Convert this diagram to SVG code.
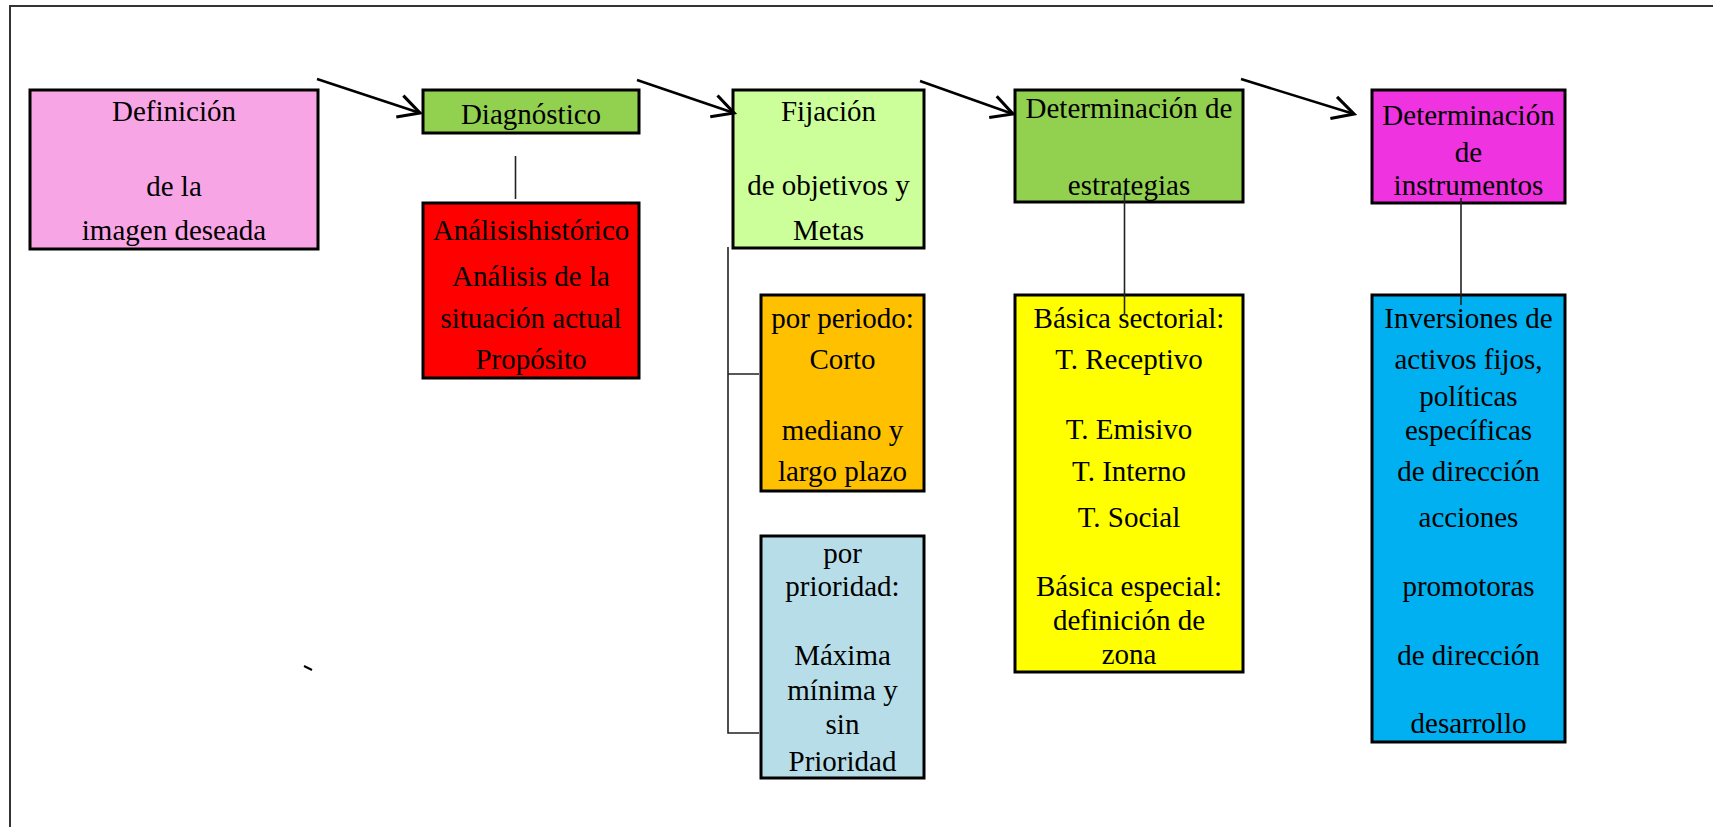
<svg xmlns="http://www.w3.org/2000/svg" width="1713" height="827" viewBox="0 0 1713 827">
<style>
.box{stroke:#000;stroke-width:3}
.t{font-family:"Liberation Serif","Times New Roman",serif;font-size:29px;fill:#000;text-anchor:middle}
.ln{stroke:#222;stroke-width:1.6;fill:none}
.ar{stroke:#000;stroke-width:2.5;fill:none;marker-end:url(#ah)}
</style>
<defs>
<marker id="ah" markerUnits="userSpaceOnUse" markerWidth="30" markerHeight="30" viewBox="-20 -12 22 24" refX="0" refY="0" orient="auto">
<path d="M-17,-9 L0,0 L-17,9" fill="none" stroke="#000" stroke-width="2.5"/>
</marker>
</defs>
<rect width="1713" height="827" fill="#fff"/>
<path d="M10,827 V6 H1713" fill="none" stroke="#333" stroke-width="2"/>
<g id="n-definicion">
<rect class="box" x="30" y="90" width="288" height="159" fill="#F8A5E6"/>
<text class="t" x="174" y="121">Definición</text>
<text class="t" x="174" y="196">de la</text>
<text class="t" x="174" y="240">imagen deseada</text>
</g>
<g id="n-diagnostico">
<rect class="box" x="423" y="90" width="216" height="43" fill="#92D050"/>
<text class="t" x="531" y="124">Diagnóstico</text>
</g>
<g id="n-analisis">
<rect class="box" x="423" y="203" width="216" height="175" fill="#FF0000"/>
<text class="t" x="531" y="240">Análisishistórico</text>
<text class="t" x="531" y="286">Análisis de la</text>
<text class="t" x="531" y="328">situación actual</text>
<text class="t" x="531" y="369">Propósito</text>
</g>
<g id="n-fijacion">
<rect class="box" x="733" y="90" width="191" height="158" fill="#CCFF99"/>
<text class="t" x="828.5" y="121">Fijación</text>
<text class="t" x="828.5" y="195">de objetivos y</text>
<text class="t" x="828.5" y="240">Metas</text>
</g>
<g id="n-periodo">
<rect class="box" x="761" y="295" width="163" height="196" fill="#FFC000"/>
<text class="t" x="842.5" y="328">por periodo:</text>
<text class="t" x="842.5" y="369">Corto</text>
<text class="t" x="842.5" y="440">mediano y</text>
<text class="t" x="842.5" y="481">largo plazo</text>
</g>
<g id="n-prioridad">
<rect class="box" x="761" y="536" width="163" height="242" fill="#B7DEE8"/>
<text class="t" x="842.5" y="563">por</text>
<text class="t" x="842.5" y="596">prioridad:</text>
<text class="t" x="842.5" y="665">Máxima</text>
<text class="t" x="842.5" y="700">mínima y</text>
<text class="t" x="842.5" y="734">sin</text>
<text class="t" x="842.5" y="771">Prioridad</text>
</g>
<g id="n-estrategias">
<rect class="box" x="1015" y="90" width="228" height="112" fill="#92D050"/>
<text class="t" x="1129" y="118">Determinación de</text>
<text class="t" x="1129" y="195">estrategias</text>
</g>
<g id="n-sectorial">
<rect class="box" x="1015" y="295" width="228" height="377" fill="#FFFF00"/>
<text class="t" x="1129" y="328">Básica sectorial:</text>
<text class="t" x="1129" y="369">T. Receptivo</text>
<text class="t" x="1129" y="439">T. Emisivo</text>
<text class="t" x="1129" y="481">T. Interno</text>
<text class="t" x="1129" y="527">T. Social</text>
<text class="t" x="1129" y="596">Básica especial:</text>
<text class="t" x="1129" y="630">definición de</text>
<text class="t" x="1129" y="664">zona</text>
</g>
<g id="n-instrumentos">
<rect class="box" x="1372" y="90" width="193" height="113" fill="#EF33E0"/>
<text class="t" x="1468.5" y="125">Determinación</text>
<text class="t" x="1468.5" y="162">de</text>
<text class="t" x="1468.5" y="195">instrumentos</text>
</g>
<g id="n-inversiones">
<rect class="box" x="1372" y="295" width="193" height="447" fill="#00B0F0"/>
<text class="t" x="1468.5" y="328">Inversiones de</text>
<text class="t" x="1468.5" y="369">activos fijos,</text>
<text class="t" x="1468.5" y="406">políticas</text>
<text class="t" x="1468.5" y="440">específicas</text>
<text class="t" x="1468.5" y="481">de dirección</text>
<text class="t" x="1468.5" y="527">acciones</text>
<text class="t" x="1468.5" y="596">promotoras</text>
<text class="t" x="1468.5" y="665">de dirección</text>
<text class="t" x="1468.5" y="733">desarrollo</text>
</g>
<g id="connectors">
<line class="ar" x1="317" y1="79" x2="420" y2="113"/>
<line class="ar" x1="637" y1="80" x2="734" y2="113"/>
<line class="ar" x1="920" y1="81" x2="1013" y2="114"/>
<line class="ar" x1="1241" y1="79" x2="1354" y2="114"/>
<line class="ln" x1="515.5" y1="156" x2="515.5" y2="199"/>
<path class="ln" d="M759,374 H728 V247 M728,374 V733 H759"/>
<line class="ln" x1="1124.5" y1="193" x2="1124.5" y2="315"/>
<line class="ln" x1="1461" y1="198" x2="1461" y2="305"/>
<line x1="304" y1="666" x2="312" y2="670" stroke="#000" stroke-width="2"/>
</g>
</svg>
